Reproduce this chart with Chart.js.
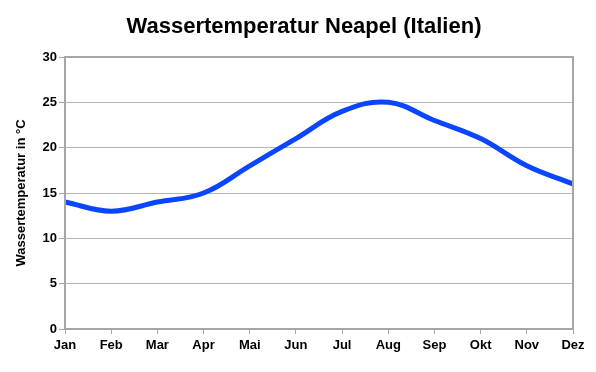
<!DOCTYPE html>
<html>
<head>
<meta charset="utf-8">
<script src="https://cdn.jsdelivr.net/npm/chart.js@4/dist/chart.umd.min.js"></script>
<style>
  html, body { margin: 0; padding: 0; background: #fff; }
  #wrap { width: 596px; height: 372px; }
</style>
</head>
<body>
<div id="wrap"><canvas id="chart"></canvas></div>
<script>
const months = ['Jan', 'Feb', 'Mar', 'Apr', 'Mai', 'Jun', 'Jul', 'Aug', 'Sep', 'Okt', 'Nov', 'Dez'];
const waterTemp = [14, 13, 14, 15, 18, 21, 24, 25, 23, 21, 18, 16];
const yTicks = [0, 5, 10, 15, 20, 25, 30];
const chartTitle = 'Wassertemperatur Neapel (Italien)';

const gridGray = '#b4b4b4';
const frameGray = '#a6a6a6';
const fontFamily = 'Arial, "Liberation Sans", sans-serif';

// frame around the plot area + title (title sits a bit right of canvas centre)
const framePlugin = {
  id: 'frame',
  afterDraw(chart) {
    const a = chart.chartArea, c = chart.ctx;
    c.save();
    c.strokeStyle = frameGray;
    c.lineWidth = 2;
    c.strokeRect(a.left, a.top, a.right - a.left, a.bottom - a.top);
    c.fillStyle = '#000';
    c.font = 'bold 22px ' + fontFamily;
    c.textAlign = 'center';
    c.textBaseline = 'middle';
    c.fillText(chartTitle, 304, 27);
    c.restore();
  }
};

new Chart(document.getElementById('chart'), {
  type: 'line',
  data: {
    labels: months,
    datasets: [{
      data: waterTemp,
      borderColor: '#0a46ff',
      borderWidth: 5,
      pointRadius: 0,
      tension: 0.4,
      fill: false
    }]
  },
  options: {
    responsive: true,
    maintainAspectRatio: false,
    animation: false,
    layout: { padding: { left: 0, right: 23, top: 57, bottom: 0 } },
    plugins: {
      legend: { display: false },
      tooltip: { enabled: false },
      title: { display: false }
    },
    scales: {
      x: {
        offset: false,
        grid: { drawOnChartArea: false, drawTicks: true, tickLength: 5, color: frameGray },
        border: { display: false },
        ticks: {
          color: '#000',
          font: { family: fontFamily, size: 13, weight: 'bold' },
          maxRotation: 0,
          padding: 4
        },
        afterFit(scale) { scale.height = 43; }
      },
      y: {
        min: 0,
        max: 30,
        afterBuildTicks(scale) { scale.ticks = yTicks.map(v => ({ value: v })); },
        grid: { color: gridGray, tickLength: 6, tickColor: frameGray },
        border: { display: false },
        ticks: {
          color: '#000',
          font: { family: fontFamily, size: 13, weight: 'bold' },
          padding: 2
        },
        title: {
          display: true,
          text: 'Wassertemperatur in °C',
          color: '#000',
          font: { family: fontFamily, size: 13, weight: 'bold' },
          padding: { top: 14, bottom: 8 }
        },
        afterFit(scale) { scale.width = 65; }
      }
    }
  },
  plugins: [framePlugin]
});
</script>
</body>
</html>
